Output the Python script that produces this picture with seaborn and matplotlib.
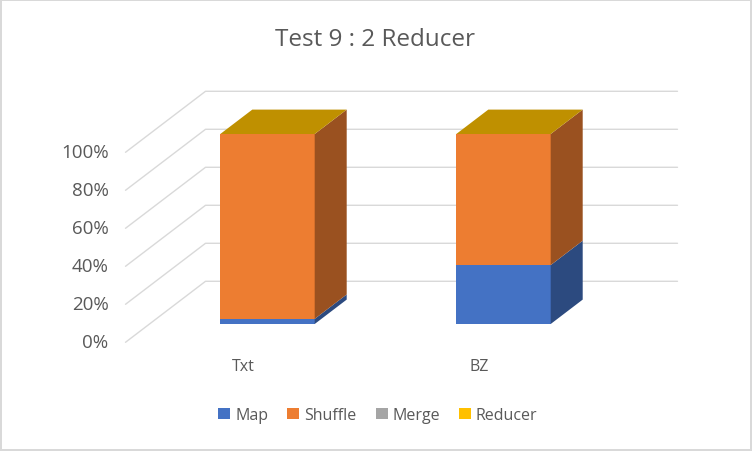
import numpy as np
import pandas as pd
import matplotlib
import matplotlib.pyplot as plt
import seaborn as sns
from matplotlib.patches import Polygon, Patch

# Datos (porcentaje de tiempo por fase)
categorias = ['Txt', 'BZ']
series = ['Map', 'Shuffle', 'Merge', 'Reducer']
map_pct = [2.7, 31]
shuffle_pct = [97.3, 69]
merge_pct = [0, 0]
reducer_pct = [0, 0]
ticks = [0, 20, 40, 60, 80, 100]
colores = ['#4472C4', '#ED7D31', '#A5A5A5', '#FFC000']

sns.set_theme(style="white")
plt.rcParams['font.family'] = ['Open Sans', 'DejaVu Sans']

fig = plt.figure(figsize=(7.52, 4.52), dpi=100)
ax = fig.add_axes([0, 0, 1, 1])

# escala: 236 px por categoria, 1.9 px por punto porcentual
PX_X = 236.0
PX_Y = 1.9
fondo = np.array([80 / PX_X, 61 / PX_Y])   # profundidad total de la caja 3D
frente = -0.3 * fondo   # plano frontal respecto a la cara de las barras
atras = 0.7 * fondo     # pared del fondo
prof = 0.4 * fondo      # profundidad de cada barra
ancho = 0.4


def oscurecer(c, f):
    r, g, b = matplotlib.colors.to_rgb(c)
    return (r * f, g * f, b * f)


# Paredes y lineas de la cuadricula
for v in ticks:
    x0, y0 = -0.5 + frente[0], v + frente[1]
    x1, y1 = -0.5 + atras[0], v + atras[1]
    x2 = 1.5 + atras[0]
    ax.plot([x0, x1, x2], [y0, y1, y1], color='#D9D9D9', lw=1, zorder=1)
    ax.text(x0 - 0.072, y0, f'{v}%', ha='right', va='center',
            fontsize=13.5, color='#595959')

# Caras frontales (barras apiladas, de la mas alta a la mas baja)
valores = np.array([map_pct, shuffle_pct, merge_pct, reducer_pct], dtype=float)
acumulado = valores.cumsum(axis=0)
df = pd.DataFrame({'categoria': categorias})
for k in reversed(range(len(series))):
    df['total'] = acumulado[k]
    sns.barplot(data=df, x='categoria', y='total', color=colores[k],
                saturation=1, width=ancho, linewidth=0, ax=ax, zorder=3)

# Caras laterales y superior
for i in range(len(categorias)):
    xr = i + ancho / 2
    xl = i - ancho / 2
    for k in range(len(series)):
        if valores[k, i] <= 0:
            continue
        b = acumulado[k, i] - valores[k, i]
        t = acumulado[k, i]
        lado = [(xr, b), (xr + prof[0], b + prof[1]),
                (xr + prof[0], t + prof[1]), (xr, t)]
        ax.add_patch(Polygon(lado, closed=True, facecolor=oscurecer(colores[k], 0.65),
                             edgecolor='none', zorder=3))
    t = acumulado[-1, i]
    tapa = [(xl, t), (xr, t), (xr + prof[0], t + prof[1]), (xl + prof[0], t + prof[1])]
    ax.add_patch(Polygon(tapa, closed=True, facecolor=oscurecer(colores[-1], 0.75),
                         edgecolor='none', zorder=3))

# Etiquetas de categoria
for i, c in enumerate(categorias):
    ax.text(i + frente[0], frente[1] - 12.5, c, ha='center', va='center',
            fontsize=11.5, color='#595959')

ax.set_xlim(-267.5 / PX_X, (752 - 267.5) / PX_X)
ax.set_ylim((325 - 452) / PX_Y, 325 / PX_Y)
ax.axis('off')

fig.text(375 / 752, 1 - 40 / 452, 'Test 9 : 2 Reducer', ha='center', va='center',
         fontsize=17.5, color='#595959')

handles = [Patch(facecolor=c, edgecolor='none') for c in colores]
fig.legend(handles, series, loc='center', bbox_to_anchor=(378 / 752, 1 - 416 / 452),
           ncol=4, frameon=False, fontsize=11.5, handlelength=0.75, handleheight=0.75,
           handletextpad=0.3, columnspacing=1.2, labelcolor='#595959')

fig.patch.set_edgecolor('#D9D9D9')
fig.patch.set_linewidth(1.5)
fig.savefig('out.png', dpi=100)
